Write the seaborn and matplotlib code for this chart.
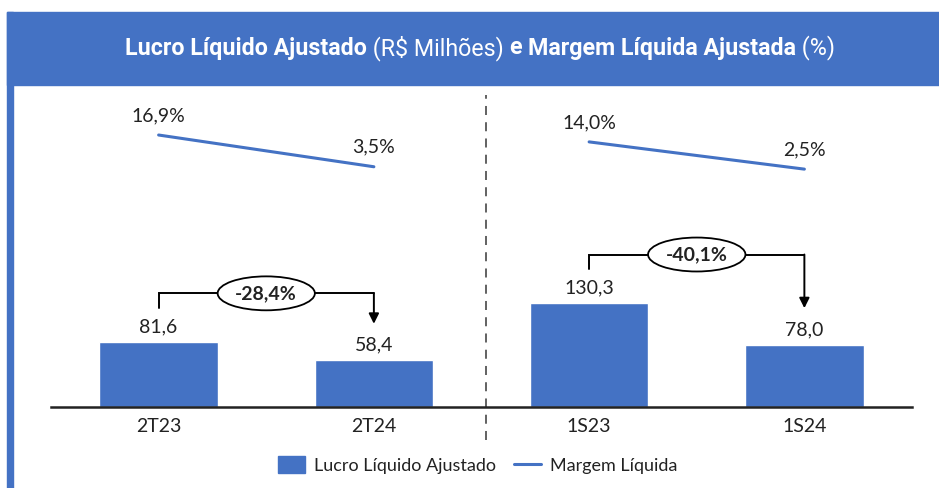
import matplotlib
matplotlib.use("Agg")
import matplotlib.pyplot as plt
import seaborn as sns
import pandas as pd
from matplotlib import font_manager
from matplotlib.patches import Rectangle, Patch
from matplotlib.lines import Line2D

#
# 01. Dados
#
periodos = ["2T23", "2T24", "1S23", "1S24"]
lucro = [81.6, 58.4, 130.3, 78.0]
margem = [16.9, 3.5, 14.0, 2.5]
grupos = ["Trimestre", "Trimestre", "Semestre", "Semestre"]
pares = [(0, 1), (2, 3)]
variacoes = ["-28,4%", "-40,1%"]

titulo_partes = [("Lucro Líquido Ajustado", "bold"),
                 (" (R\\$ Milhões) ", "normal"),
                 ("e ", "bold"),
                 ("Margem Líquida Ajustada", "bold"),
                 (" (%)", "normal")]
legenda_barras = "Lucro Líquido Ajustado"
legenda_linha = "Margem Líquida"

azul = "#4472C4"
cor_texto = "#222222"

#
# 02. Fontes
#
sns.set_theme(style="white")
nomes = {f.name for f in font_manager.fontManager.ttflist}
fonte_corpo = "Lato" if "Lato" in nomes else "DejaVu Sans"
fonte_titulo = next((n for n in ["Liberation Sans Narrow", "Roboto", "Liberation Sans"] if n in nomes), "DejaVu Sans")
plt.rcParams["font.family"] = [fonte_corpo, "DejaVu Sans"]

fmt = lambda v: f"{v:.1f}".replace(".", ",")

#
# 03. Figura e moldura
#
fig = plt.figure(figsize=(9.39, 4.88), dpi=100)
W, H = 939, 488
fig.patches.append(Rectangle((7 / W, 0), 6 / W, (H - 12) / H, transform=fig.transFigure,
                             color=azul, zorder=0))
fig.patches.append(Rectangle((7 / W, (H - 85) / H), 1, 73 / H, transform=fig.transFigure,
                             color=azul, zorder=0))

ax = fig.add_axes([51 / W, 81 / H, 861 / W, 317 / H])
ax.set_facecolor("none")

#
# 04. Barras
#
df = pd.DataFrame({"periodo": periodos, "lucro": lucro, "margem": margem,
                   "grupo": grupos, "pos": range(len(periodos))})
sns.barplot(data=df, x="periodo", y="lucro", color=azul, saturation=1,
            width=0.55, ax=ax)
ax.bar_label(ax.containers[0], labels=[fmt(v) for v in lucro], padding=5,
             fontsize=14, color=cor_texto)

#
# 05. Margem (eixo secundário)
#
ax2 = ax.twinx()
sns.lineplot(data=df, x="pos", y="margem", units="grupo", estimator=None,
             color=azul, linewidth=2.2, ax=ax2, legend=False)
for i, v in enumerate(margem):
    ax2.annotate(fmt(v) + "%", (i, v), xytext=(0, 14), textcoords="offset points",
                 ha="center", va="center", fontsize=14, color=cor_texto)
ax2.set_ylim(-97.9, 35.9)
ax2.axis("off")

#
# 06. Setas de variação
#
for (a, b), txt in zip(pares, variacoes):
    topo = max(lucro[a], lucro[b]) + 61
    ax.plot([a, a, b], [lucro[a] + 43, topo, topo], color="black", lw=1.4,
            solid_joinstyle="miter", zorder=4)
    ax.annotate("", xy=(b, lucro[b] + 46), xytext=(b, topo),
                arrowprops=dict(arrowstyle="-|>", color="black", lw=1.4,
                                mutation_scale=15, shrinkA=0, shrinkB=0),
                zorder=4)
    ax.text((a + b) / 2, topo, txt, ha="center", va="center", fontsize=14,
            fontweight="bold", color=cor_texto, zorder=5,
            bbox=dict(boxstyle="ellipse,pad=0.18", fc="white", ec="black", lw=1.3))

#
# 07. Separador e eixos
#
ax.plot([1.52, 1.52], [-0.104, 0.984], transform=ax.get_xaxis_transform(),
        color="#555555", lw=1.3, ls=(0, (5, 4)), clip_on=False)

ax.set_xlim(-0.5, 3.5)
ax.set_ylim(0, 397.7)
ax.set_xlabel("")
ax.set_ylabel("")
ax.set_yticks([])
for lado in ["top", "right", "left"]:
    ax.spines[lado].set_visible(False)
ax.spines["bottom"].set_color("#222222")
ax.spines["bottom"].set_linewidth(1.8)
ax.tick_params(axis="x", length=0, pad=8, labelsize=14, labelcolor=cor_texto)

#
# 08. Legenda
#
handles = [Patch(color=azul, label=legenda_barras),
           Line2D([], [], color=azul, lw=2.2, label=legenda_linha)]
fig.legend(handles=handles, loc="center", bbox_to_anchor=(478 / W, 23 / H),
           ncol=2, frameon=False, fontsize=13, handlelength=1.5, handleheight=1.05,
           handletextpad=0.5, columnspacing=1.0, labelcolor=cor_texto)

#
# 09. Título com partes em negrito
#
textos = [fig.text(0, (H - 48) / H, s, fontweight=w, fontsize=16, color="white",
                   family=[fonte_titulo, "DejaVu Sans"], va="center", ha="left")
          for s, w in titulo_partes]
fig.canvas.draw()
r = fig.canvas.get_renderer()
larguras = [t.get_window_extent(r).width for t in textos]
escala = 713 / sum(larguras)
for t in textos:
    t.set_fontsize(16 * escala)
fig.canvas.draw()
larguras = [t.get_window_extent(r).width for t in textos]
x = 480 - sum(larguras) / 2
for t, w in zip(textos, larguras):
    t.set_x(x / W)
    x += w

plt.savefig("out.png", dpi=100)
